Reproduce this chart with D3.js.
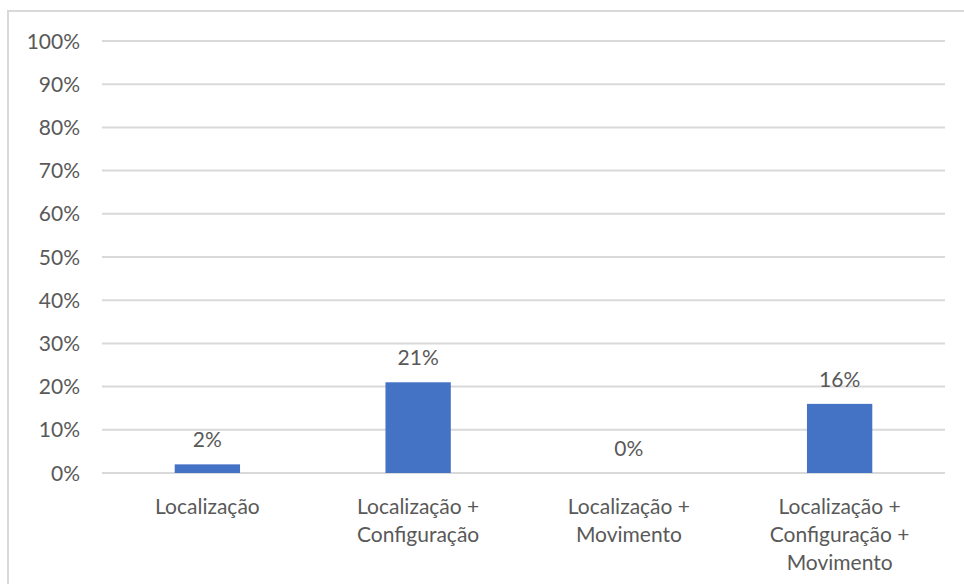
<!DOCTYPE html>
<html>
<head>
<meta charset="utf-8">
<script src="https://cdn.jsdelivr.net/npm/d3@7"></script>
<style>
  html, body { margin: 0; padding: 0; background: #fff; }
  svg { display: block; }
  text { font-family: Lato, "Open Sans", sans-serif; fill: #595959; }
</style>
</head>
<body>
<svg id="chart" width="964" height="584"></svg>
<script>
// Share of responses per combination of sign parameters
const categories = [
  ["Localização"],
  ["Localização +", "Configuração"],
  ["Localização +", "Movimento"],
  ["Localização +", "Configuração +", "Movimento"]
];
const values = [0.02, 0.21, 0.00, 0.16];
const yTicks = [0, 0.1, 0.2, 0.3, 0.4, 0.5, 0.6, 0.7, 0.8, 0.9, 1.0];

const svg = d3.select("#chart");
const W = 964, H = 584;
const plot = { left: 102, right: 945, top: 41, bottom: 473 };

// chart frame (runs off the right and bottom edges)
svg.append("rect")
  .attr("x", 8).attr("y", 11)
  .attr("width", 1100).attr("height", 800)
  .attr("fill", "none")
  .attr("stroke", "#d9d9d9")
  .attr("stroke-width", 2);

const x = d3.scaleBand()
  .domain(d3.range(categories.length))
  .range([plot.left, plot.right])
  .paddingInner(0.69)
  .paddingOuter(0.345);

const y = d3.scaleLinear()
  .domain([0, 1])
  .range([plot.bottom, plot.top]);

// horizontal gridlines
svg.append("g")
  .selectAll("line")
  .data(yTicks)
  .join("line")
  .attr("x1", plot.left).attr("x2", plot.right)
  .attr("y1", d => y(d)).attr("y2", d => y(d))
  .attr("stroke", "#d9d9d9")
  .attr("stroke-width", 2);

// y tick labels
const pct = d3.format(".0%");
svg.append("g")
  .selectAll("text")
  .data(yTicks)
  .join("text")
  .attr("x", 80)
  .attr("y", d => y(d))
  .attr("dy", "0.36em")
  .attr("text-anchor", "end")
  .attr("font-size", 21)
  .text(d => pct(d));

// bars
svg.append("g")
  .selectAll("rect")
  .data(values)
  .join("rect")
  .attr("x", (d, i) => x(i))
  .attr("width", x.bandwidth())
  .attr("y", d => y(d))
  .attr("height", d => y(0) - y(d))
  .attr("fill", "#4472C4");

// value labels
svg.append("g")
  .selectAll("text")
  .data(values)
  .join("text")
  .attr("x", (d, i) => x(i) + x.bandwidth() / 2)
  .attr("y", d => y(d) - 17)
  .attr("text-anchor", "middle")
  .attr("font-size", 21)
  .text(d => pct(d));

// category labels (wrapped)
const catG = svg.append("g")
  .selectAll("text")
  .data(categories)
  .join("text")
  .attr("text-anchor", "middle")
  .attr("font-size", 21)
  .attr("transform", (d, i) => `translate(${x(i) + x.bandwidth() / 2},514)`);

catG.selectAll("tspan")
  .data(d => d)
  .join("tspan")
  .attr("x", 0)
  .attr("y", (d, j) => j * 28)
  .text(d => d);
</script>
</body>
</html>
